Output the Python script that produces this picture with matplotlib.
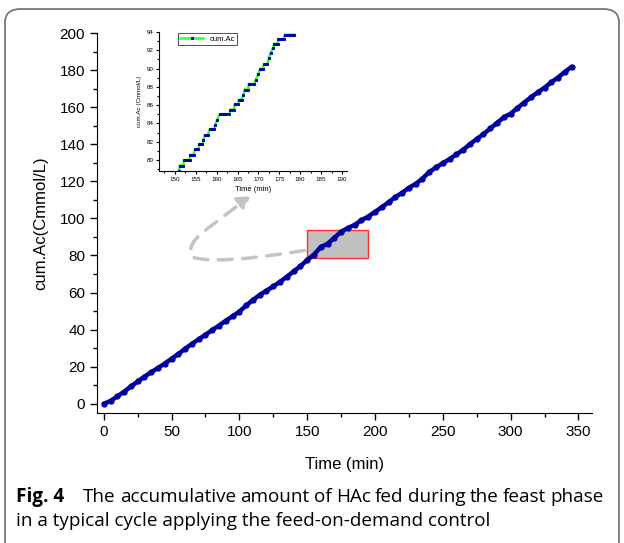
import numpy as np
import matplotlib
matplotlib.use("Agg")
import matplotlib.pyplot as plt
from matplotlib.patches import Rectangle, FancyBboxPatch, FancyArrowPatch
from matplotlib.path import Path
from matplotlib.ticker import MultipleLocator

plt.rcParams['font.family'] = ['Liberation Sans', 'DejaVu Sans']
CAP_FONT = ['Open Sans', 'DejaVu Sans']

# main series: cumulative HAc (Cmmol/L) vs time (min)
time_main = [0, 5, 10, 15, 20, 25, 30, 35, 40, 45, 50, 55, 60, 65, 70, 75, 80, 85,
             90, 95, 100, 105, 110, 115, 120, 125, 130, 135, 140, 145, 150, 155, 160,
             165, 170, 175, 180, 185, 190, 195, 200, 205, 210, 215, 220, 225, 230, 235,
             240, 245, 250, 255, 260, 265, 270, 275, 280, 285, 290, 295, 300, 305, 310,
             315, 320, 325, 330, 335, 340, 345]
cum_main = [0, 1.5, 4, 6.5, 9.3, 12, 14.6, 17, 19.3, 21.7, 24.3, 26.8, 29.7, 32.3,
            34.8, 37.2, 39.8, 42.2, 44.8, 47.2, 49.7, 53, 56, 58.7, 61, 63.3, 65.8,
            68.5, 71.4, 74.2, 77.5, 80.5, 84.5, 86.3, 89.5, 92.8, 94.8, 96.5, 99, 101,
            103.5, 106, 108.7, 111.5, 113.8, 116.5, 118.6, 121.5, 125, 127.5, 129.8,
            132, 134.5, 137, 140, 142.8, 145.5, 148.5, 151.5, 154.5, 156.5, 159.5,
            162.5, 165.3, 168, 170.5, 173.5, 176, 179, 181.8]

# zoomed section 150-180 min
time_zoom = [150.95, 151.2, 151.6, 152.0, 152.2, 152.7, 153.2, 153.6, 153.7, 154.1,
             154.5, 154.8, 155.2, 155.6, 155.8, 156.2, 156.6, 156.85, 157.1, 157.5,
             157.9, 158.3, 158.8, 159.3, 159.7, 160.1, 160.7, 161.2, 161.7, 162.3,
             162.9, 163.3, 163.7, 164.1, 164.3, 164.7, 165.1, 165.3, 165.7, 166.0,
             166.4, 166.7, 167.1, 167.5, 167.7, 168.1, 168.6, 169.0, 169.4, 169.9,
             170.4, 170.7, 171.0, 171.3, 171.7, 172.1, 172.5, 172.9, 173.4, 173.8,
             174.2, 174.6, 174.8, 175.2, 175.6, 176.0, 176.3, 176.8, 177.3, 177.8,
             178.3, 178.6]
cum_zoom = [78.8, 79.4, 79.4, 79.4, 80.0, 80.0, 80.0, 80.0, 80.55, 80.55, 80.55,
            81.15, 81.15, 81.15, 81.7, 81.7, 81.7, 82.2, 82.7, 82.7, 82.7, 83.35,
            83.35, 83.35, 83.85, 84.4, 85.0, 85.0, 85.0, 85.0, 85.0, 85.5, 85.5, 85.5,
            86.1, 86.1, 86.1, 86.6, 86.6, 86.6, 87.15, 87.7, 87.7, 87.7, 88.3, 88.3,
            88.3, 88.3, 88.8, 89.4, 89.9, 89.9, 89.9, 90.45, 90.45, 90.45, 91.2, 91.7,
            92.2, 92.7, 92.7, 92.7, 93.2, 93.2, 93.2, 93.2, 93.7, 93.7, 93.7, 93.7,
            93.7, 93.7]

caption_bold = 'Fig. 4'
caption_line1 = 'The accumulative amount of HAc fed during the feast phase'
caption_line2 = 'in a typical cycle applying the feed-on-demand control'

W, H = 624, 543
fig = plt.figure(figsize=(W / 100, H / 100), dpi=100)

# rounded frame around the figure
frame = FancyBboxPatch((5 / W, -0.05), 614 / W, 1 - 9 / H + 0.05,
                       boxstyle="round,pad=0,rounding_size=0.025",
                       transform=fig.transFigure, fill=False,
                       edgecolor='#777777', linewidth=1.3)
fig.patches.append(frame)

ax = fig.add_axes([0.1554, 0.2394, 0.7933, 0.6998])
ax.plot(time_main, cum_main, color='#0000a0', lw=3.2, marker='o', ms=3.5,
        solid_capstyle='round')
ax.set_xlim(-5, 360)
ax.set_ylim(-5, 200)
ax.xaxis.set_major_locator(MultipleLocator(50))
ax.xaxis.set_minor_locator(MultipleLocator(25))
ax.yaxis.set_major_locator(MultipleLocator(20))
ax.yaxis.set_minor_locator(MultipleLocator(10))
ax.spines['top'].set_visible(False)
ax.spines['right'].set_visible(False)
ax.tick_params(which='major', direction='out', length=5, width=1, labelsize=11)
ax.tick_params(which='minor', direction='out', length=3, width=1)
ax.set_xlabel('Time (min)', fontsize=12, labelpad=13)
ax.set_ylabel('cum.Ac(Cmmol/L)', fontsize=12, labelpad=8)

# highlighted region
ax.add_patch(Rectangle((150, 78.8), 45, 14.7, facecolor='#c0c0c0',
                       edgecolor='#ff3030', lw=1, zorder=1))

# dashed curved arrow to inset
verts = [(148, 82.7), (85, 75), (66, 78.9), (60, 84), (72, 92), (108, 112)]
codes = [Path.MOVETO, Path.CURVE3, Path.CURVE3, Path.CURVE3, Path.CURVE3, Path.LINETO]
arrow = FancyArrowPatch(path=Path(verts, codes), arrowstyle='-|>,head_length=7,head_width=4.5',
                        color='#c4c4c4', lw=2.5, linestyle=(0, (4, 3)),
                        transform=ax.transData, zorder=1)
ax.add_patch(arrow)

# inset
axi = fig.add_axes([0.2548, 0.6851, 0.3013, 0.256])
axi.plot(time_zoom, cum_zoom, color='#33ff33', lw=1.8, marker='s', ms=1.2,
         mfc='#0000a0', mec='#0000a0', label='cum.Ac')
axi.set_xlim(146.2, 191.2)
axi.set_ylim(78.8, 94)
axi.xaxis.set_major_locator(MultipleLocator(5))
axi.xaxis.set_minor_locator(MultipleLocator(2.5))
axi.yaxis.set_major_locator(MultipleLocator(2))
axi.yaxis.set_minor_locator(MultipleLocator(1))
axi.spines['top'].set_visible(False)
axi.spines['right'].set_visible(False)
axi.tick_params(which='major', direction='out', length=2.5, width=0.8, labelsize=4.5, pad=1.5)
axi.tick_params(which='minor', direction='out', length=1.5, width=0.8)
axi.set_xlabel('Time (min)', fontsize=5.5, labelpad=3)
axi.set_ylabel('cum.Ac (Cmmol/L)', fontsize=4.5, labelpad=3)
leg = axi.legend(loc='upper left', fontsize=5.5, frameon=True, fancybox=False,
                 edgecolor='black', handlelength=3, borderpad=0.3,
                 bbox_to_anchor=(0.08, 1.02))
leg.get_frame().set_linewidth(0.6)

# caption: line 2 sets the font size, line 1 is justified to full width
fig.canvas.draw()
renderer = fig.canvas.get_renderer()
y1, y2 = 1 - 497 / H, 1 - 521 / H
probe = fig.text(0, 0, caption_line2, fontsize=12, family=CAP_FONT)
w12 = probe.get_window_extent(renderer).width
probe.remove()
fs = 12 * (471 / w12)

fig.text(16 / W, y1, caption_bold, fontsize=fs, fontweight='bold', family=CAP_FONT, va='center')
words = caption_line1.split()
texts = [fig.text(0, y1, wd, fontsize=fs, family=CAP_FONT, va='center') for wd in words]
widths = [t.get_window_extent(renderer).width for t in texts]
x_start, x_end = 83, 604
gap = max((x_end - x_start - sum(widths)) / (len(words) - 1), 0.25 * fs)
x = x_start
for t, w in zip(texts, widths):
    t.set_x(x / W)
    x += w + gap
fig.text(16 / W, y2, caption_line2, fontsize=fs, family=CAP_FONT, va='center')

fig.savefig('out.png', dpi=100)
